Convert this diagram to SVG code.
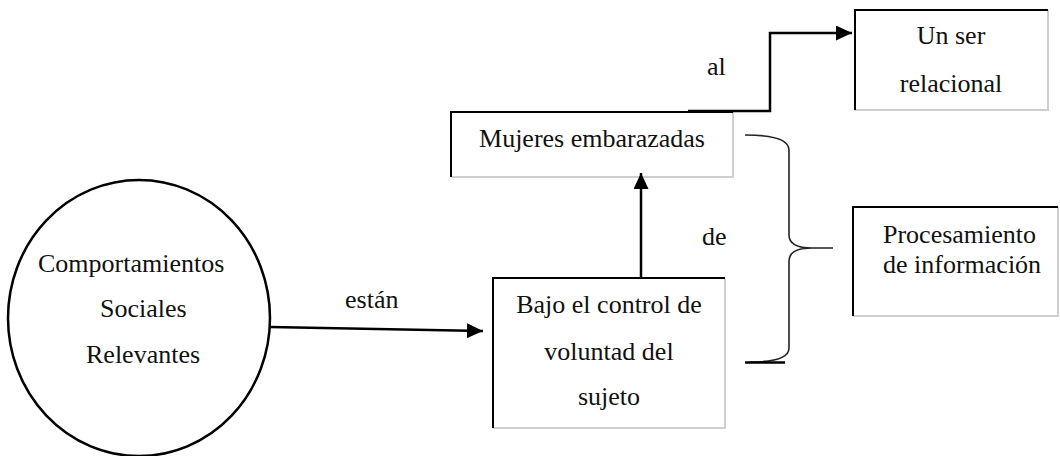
<svg xmlns="http://www.w3.org/2000/svg" width="1060" height="456" viewBox="0 0 1060 456">
<style>
text{font-family:"Liberation Serif","Times New Roman",serif;font-size:26px;fill:#111}
.dk{stroke:#000;stroke-width:2;fill:none}
.lt{stroke:#cfcfcf;stroke-width:2;fill:none}
.con{stroke:#000;stroke-width:2.5;fill:none}
.br{stroke:#222;stroke-width:1.6;fill:none}
</style>
<defs>
<marker id="ah" viewBox="0 0 16 15" refX="16" refY="7.5" markerWidth="16" markerHeight="15" markerUnits="userSpaceOnUse" orient="auto">
<path d="M0,0 L16,7.5 L0,15 Z" fill="#000"/>
</marker>
</defs>
<rect width="1060" height="456" fill="#fff"/>

<g id="n-comportamientos">
<ellipse cx="139" cy="318" rx="131" ry="138" fill="#fff" stroke="#000" stroke-width="2.5"/>
<text x="38" y="272">Comportamientos</text>
<text x="100" y="317">Sociales</text>
<text x="86" y="363">Relevantes</text>
</g>

<g id="n-bajo">
<rect x="493" y="278" width="232" height="150" fill="#fff"/>
<path class="lt" d="M725,278 V428 H493"/>
<path class="dk" d="M493,428 V278 H725"/>
<text x="609" y="313" text-anchor="middle">Bajo el control de</text>
<text x="609" y="360" text-anchor="middle">voluntad del</text>
<text x="609" y="405" text-anchor="middle">sujeto</text>
</g>

<g id="n-mujeres">
<rect x="451" y="112" width="282" height="65" fill="#fff"/>
<path class="lt" d="M733,112 V177 H451"/>
<path class="dk" d="M451,177 V112 H733"/>
<text x="592" y="147" text-anchor="middle">Mujeres embarazadas</text>
</g>

<g id="n-unser">
<rect x="855" y="10" width="193" height="100" fill="#fff"/>
<path class="lt" d="M1048,10 V110 H855"/>
<path class="dk" d="M855,110 V10 H1048"/>
<text x="951" y="44" text-anchor="middle">Un ser</text>
<text x="951" y="92" text-anchor="middle">relacional</text>
</g>

<g id="n-procesamiento">
<rect x="853" y="207" width="205" height="109" fill="#fff"/>
<path class="lt" d="M1058,207 V316 H853"/>
<path class="dk" d="M853,316 V207 H1058"/>
<text x="883" y="243">Procesamiento</text>
<text x="883" y="273">de información</text>
</g>

<g id="connectors">
<path class="con" d="M270,327 L483,331" marker-end="url(#ah)"/>
<path class="con" d="M641,278 V173" marker-end="url(#ah)"/>
<path class="con" d="M688,111 H770 V33 H852" marker-end="url(#ah)"/>
<path class="br" d="M745,135 Q789,135 789,150 L789,235 Q789,248 812,248 L833,248 M812,248 Q789,248 789,261 L789,348 Q789,362 750,362"/>
<path d="M745,362.5 H785" stroke="#000" stroke-width="2.5"/>
<text x="345" y="308">están</text>
<text x="702" y="245">de</text>
<text x="707" y="75">al</text>
</g>
</svg>
